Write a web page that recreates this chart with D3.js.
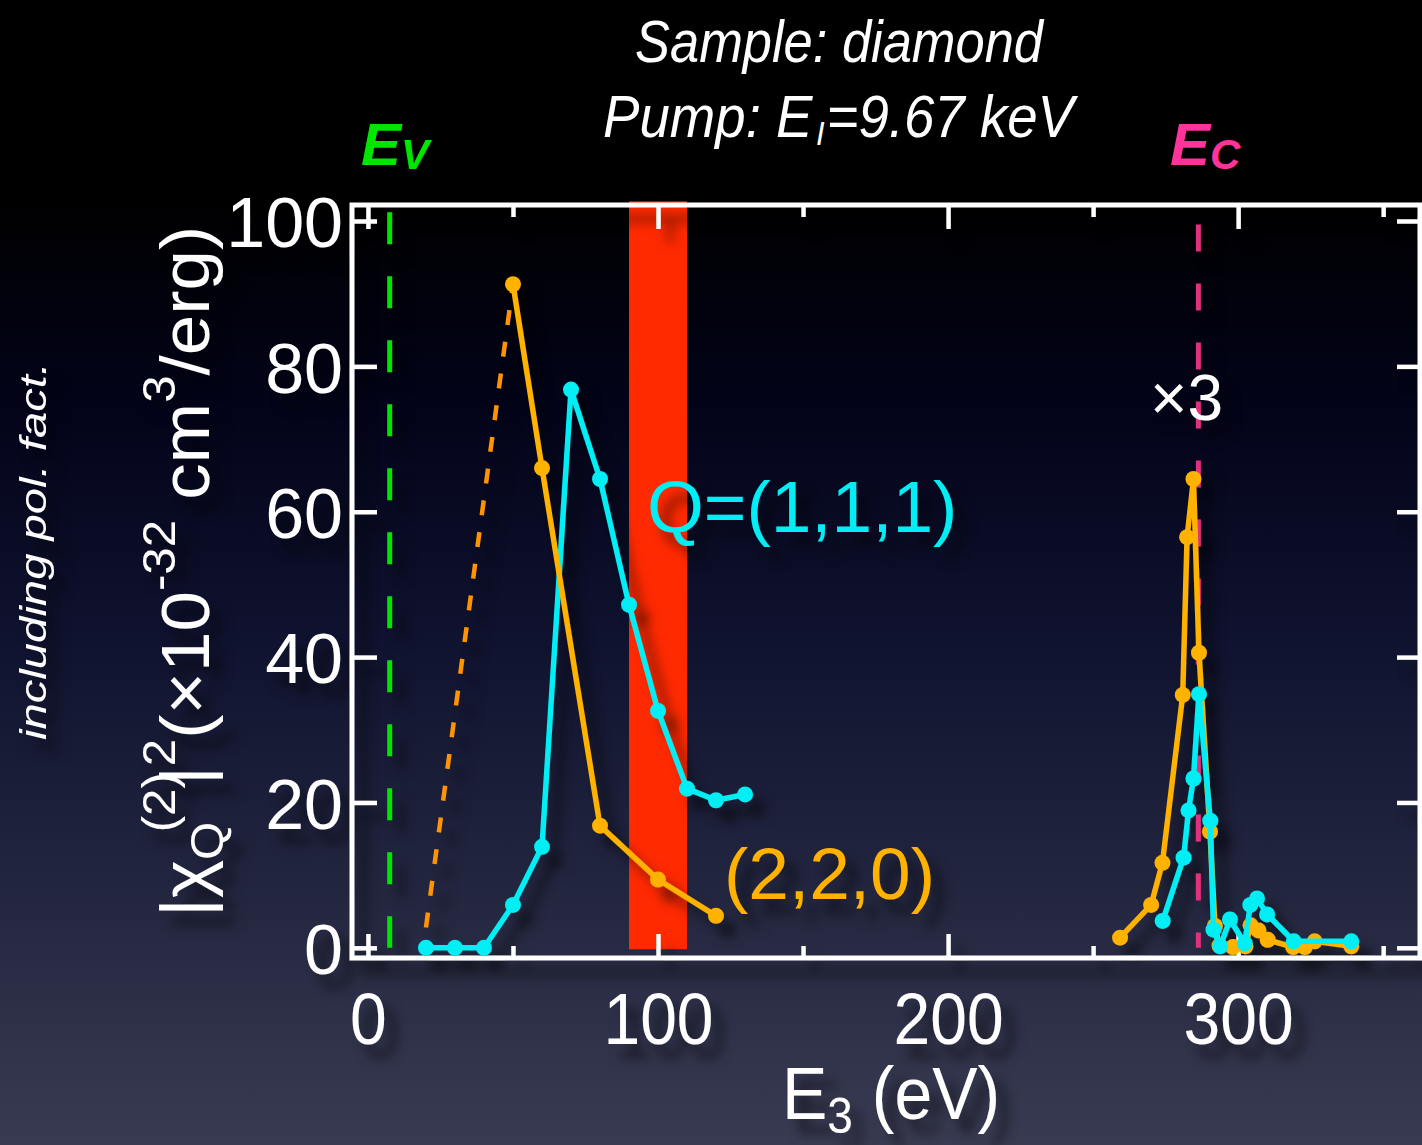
<!DOCTYPE html>
<html>
<head>
<meta charset="utf-8">
<script src="https://cdn.jsdelivr.net/npm/d3@7"></script>
<style>
  html, body { margin: 0; padding: 0; background: #000; overflow: hidden; }
  text { font-family: "Liberation Sans", Arial, Helvetica, sans-serif; }
</style>
</head>
<body>
<svg id="chart" width="1422" height="1145"></svg>
<script>
// ---- data: |chi_Q^(2)|^2 (x1e-32 cm^3/erg) versus E3 (eV) ----
// Q=(1,1,1), valence region
const q111LowE   = [20, 30, 40, 50, 60, 70, 80, 90, 100, 110, 120, 130];
const q111LowChi = [0, 0, 0, 5.9, 13.9, 76.8, 64.5, 47.2, 32.6, 21.9, 20.3, 21.1];
// Q=(2,2,0), valence region
const q220LowE   = [50, 60, 80, 100, 120];
const q220LowChi = [91.3, 66.0, 16.8, 9.4, 4.4];
// dotted guide below the first (2,2,0) point
const q220GuideE   = [20, 50];
const q220GuideChi = [2.8, 91.3];
// carbon K-edge region (shown x3)
const q111EdgeE   = [274, 281.2, 282.9, 284.6, 286.5, 290.4, 291.5, 293.8, 297.2, 302.3, 304.2, 306.5, 310, 319.2, 339];
const q111EdgeChi = [3.7, 12.4, 18.9, 23.3, 34.9, 17.5, 2.5, 0.2, 3.9, 0.6, 5.9, 6.8, 4.6, 0.9, 0.9];
const q220EdgeE   = [259.3, 270, 273.9, 280.9, 282.4, 284.6, 286.5, 290.3, 292, 293.6, 298.2, 302.5, 304.3, 307, 310.2, 319, 323, 326.4, 339];
const q220EdgeChi = [1.4, 5.9, 11.7, 34.8, 56.5, 64.5, 40.6, 16.0, 3.0, 0.3, 0.1, 0.2, 3.1, 2.4, 1.1, 0.1, 0.1, 0.9, 0.2];
// highlighted band and band-edge markers
const bandRange = [90, 110];
const valenceEdge = 7.5;
const conductionEdge = 286.3;
// axis ticks
const xMajorTicks = [0, 100, 200, 300];
const xTickLabels = ["0", "100", "200", "300"];
const xMinorTicks = [50, 150, 250, 350];
const yTicks = [0, 20, 40, 60, 80, 100];
const yTickLabels = ["0", "20", "40", "60", "80", "100"];

const W = 1422, H = 1145;
const CYAN = "#00eef4", ORANGE = "#ffb200", DOT_ORANGE = "#ff9400";

const svg = d3.select("#chart");
const defs = svg.append("defs");

// dark vertical background
const grad = defs.append("linearGradient").attr("id", "bg")
  .attr("x1", 0).attr("y1", 0).attr("x2", 0).attr("y2", 1);
[[0, "#000000"], [0.17, "#000000"], [0.36, "#03041a"], [0.56, "#10132f"],
 [0.78, "#23263f"], [1, "#393b52"]]
  .forEach(([o, c]) => grad.append("stop").attr("offset", o).attr("stop-color", c));
svg.append("rect").attr("width", W).attr("height", H).attr("fill", "url(#bg)");

// soft drop shadow under the drawing
const shadow = defs.append("filter").attr("id", "shadow")
  .attr("filterUnits", "userSpaceOnUse")
  .attr("x", 0).attr("y", 0).attr("width", W).attr("height", H);
shadow.append("feDropShadow").attr("dx", 12).attr("dy", 14).attr("stdDeviation", 6)
  .attr("flood-color", "#000").attr("flood-opacity", 0.55);

const x = d3.scaleLinear().domain([-5.5, 362.7]).range([352, 1420]);
const y = d3.scaleLinear().domain([-1.4, 102.2]).range([958, 205]);

const zip = (a, b) => a.map((v, i) => [v, b[i]]);
const line = d3.line().x(d => x(d[0])).y(d => y(d[1]));

// highlighted energy window
svg.append("rect")
  .attr("x", x(bandRange[0])).attr("width", x(bandRange[1]) - x(bandRange[0]))
  .attr("y", y(102.7)).attr("height", y(-0.2) - y(102.7))
  .attr("fill", "#ff2a00");

const g = svg.append("g").attr("filter", "url(#shadow)");

// band-edge dashed markers
g.append("line")
  .attr("x1", x(valenceEdge)).attr("x2", x(valenceEdge))
  .attr("y1", y(101.2)).attr("y2", y(0))
  .attr("stroke", "#00e600").attr("stroke-width", 5).attr("stroke-dasharray", "32,32");
g.append("line")
  .attr("x1", x(conductionEdge)).attr("x2", x(conductionEdge))
  .attr("y1", y(99.5)).attr("y2", y(0))
  .attr("stroke", "#e0307c").attr("stroke-width", 5).attr("stroke-dasharray", "27,32");

// frame and ticks
const axes = g.append("g").attr("stroke", "#fff").attr("fill", "none");
axes.append("rect")
  .attr("x", x.range()[0]).attr("y", y.range()[1])
  .attr("width", x.range()[1] - x.range()[0]).attr("height", y.range()[0] - y.range()[1])
  .attr("stroke-width", 5);

function styleAxis(sel) {
  sel.select(".domain").remove();
  sel.selectAll(".tick line").attr("stroke", "#fff").attr("stroke-width", 4.5);
}
g.append("g").attr("transform", `translate(0,${y.range()[0]})`)
  .call(d3.axisBottom(x).tickValues(xMajorTicks).tickSize(-24).tickSizeOuter(0)
        .tickFormat((d, i) => xTickLabels[i]))
  .call(styleAxis)
  .call(s => s.selectAll(".tick text")
    .attr("y", null).attr("dy", null)
    .attr("transform", "translate(0,86) scale(1,1.1)")
    .attr("fill", "#fff").attr("font-size", 66)
    .attr("font-family", "Liberation Sans, Arial, sans-serif"));
g.append("g").attr("transform", `translate(0,${y.range()[0]})`)
  .call(d3.axisBottom(x).tickValues(xMinorTicks).tickSize(-12).tickSizeOuter(0).tickFormat(""))
  .call(styleAxis);
g.append("g").attr("transform", `translate(0,${y.range()[1]})`)
  .call(d3.axisTop(x).tickValues(xMajorTicks).tickSize(-24).tickSizeOuter(0).tickFormat(""))
  .call(styleAxis);
g.append("g").attr("transform", `translate(0,${y.range()[1]})`)
  .call(d3.axisTop(x).tickValues(xMinorTicks).tickSize(-12).tickSizeOuter(0).tickFormat(""))
  .call(styleAxis);
g.append("g").attr("transform", `translate(${x.range()[0]},0)`)
  .call(d3.axisLeft(y).tickValues(yTicks).tickSize(-25).tickSizeOuter(0)
        .tickFormat((d, i) => yTickLabels[i]))
  .call(styleAxis)
  .call(s => s.selectAll(".tick text")
    .attr("x", -9).attr("dy", "0.37em")
    .attr("fill", "#fff").attr("font-size", 70)
    .attr("font-family", "Liberation Sans, Arial, sans-serif"));
g.append("g").attr("transform", `translate(${x.range()[1]},0)`)
  .call(d3.axisRight(y).tickValues(yTicks).tickSize(-23).tickSizeOuter(0).tickFormat(""))
  .call(styleAxis);

// series
function drawSeries(data, color, r) {
  g.append("path").datum(data).attr("d", line)
    .attr("fill", "none").attr("stroke", color).attr("stroke-width", 5.5)
    .attr("stroke-linejoin", "round");
  g.append("g").selectAll("circle").data(data).join("circle")
    .attr("cx", d => x(d[0])).attr("cy", d => y(d[1])).attr("r", r)
    .attr("fill", color);
}
g.append("path").datum(zip(q220GuideE, q220GuideChi)).attr("d", line)
  .attr("fill", "none").attr("stroke", DOT_ORANGE).attr("stroke-width", 4.5)
  .attr("stroke-dasharray", "15,17");
drawSeries(zip(q111LowE, q111LowChi), CYAN, 8);
drawSeries(zip(q220LowE, q220LowChi), ORANGE, 8);
drawSeries(zip(q220EdgeE, q220EdgeChi), ORANGE, 8);
drawSeries(zip(q111EdgeE, q111EdgeChi), CYAN, 8);

// in-plot labels
g.append("text").attr("x", 647).attr("y", 532).attr("font-size", 73).attr("fill", CYAN)
  .text("Q=(1,1,1)");
g.append("text").attr("x", 724).attr("y", 899).attr("font-size", 73).attr("fill", ORANGE)
  .text("(2,2,0)");
g.append("text").attr("x", 1150).attr("y", 420).attr("font-size", 64).attr("fill", "#fff")
  .text("×3");

// x-axis title
const xt = g.append("text")
  .attr("transform", "translate(782,1119) scale(1,1.1)")
  .attr("font-size", 68).attr("fill", "#fff");
xt.append("tspan").text("E");
xt.append("tspan").attr("font-size", 46).attr("dy", 13).text("3");
xt.append("tspan").attr("dy", -13).text(" (eV)");

// y-axis title
const yt = g.append("text")
  .attr("transform", "translate(209,917) scale(1,1.07) rotate(-90)")
  .attr("font-size", 68).attr("fill", "#fff");
yt.append("tspan").text("|χ");
yt.append("tspan").attr("font-size", 46).attr("dy", 14).text("Q");
yt.append("tspan").attr("font-size", 46).attr("dx", -10).attr("dy", -48).text("(2)");
yt.append("tspan").attr("dx", -12).attr("dy", 34).text("|");
yt.append("tspan").attr("font-size", 46).attr("dy", -34).text("2");
yt.append("tspan").attr("dy", 34).text("(×10");
yt.append("tspan").attr("font-size", 46).attr("dy", -34).text("-32");
yt.append("tspan").attr("dy", 34).text(" cm");
yt.append("tspan").attr("font-size", 46).attr("dy", -34).text("3");
yt.append("tspan").attr("dy", 34).text("/erg)");

g.append("text")
  .attr("transform", "translate(46,740) rotate(-90)")
  .attr("font-size", 37).attr("font-style", "italic").attr("fill", "#fff")
  .attr("font-family", "Liberation Sans Narrow, Liberation Sans, sans-serif")
  .attr("textLength", 378).attr("lengthAdjust", "spacingAndGlyphs")
  .text("including pol. fact.");

// header
const head = svg.append("g").attr("fill", "#fff")
  .attr("font-style", "italic");
head.append("text").attr("x", 839).attr("y", 62).attr("text-anchor", "middle")
  .attr("font-family", "Lato, 'Open Sans', sans-serif").attr("font-size", 60)
  .attr("textLength", 408).attr("lengthAdjust", "spacingAndGlyphs")
  .text("Sample: diamond");
const pump = head.append("text").attr("x", 603).attr("y", 137)
  .attr("font-family", "Lato, 'Open Sans', sans-serif").attr("font-size", 60)
  .attr("textLength", 471).attr("lengthAdjust", "spacingAndGlyphs");
pump.append("tspan").text("Pump: E");
pump.append("tspan").attr("font-size", 34).attr("dx", 4).attr("dy", 8).text("I");
pump.append("tspan").attr("dx", 2).attr("dy", -8).text("=9.67 keV");

const ev = svg.append("text").attr("x", 361).attr("y", 165)
  .attr("font-family", "Lato, sans-serif").attr("font-weight", 900).attr("font-style", "italic")
  .attr("font-size", 60).attr("fill", "#00e600");
ev.append("tspan").text("E");
ev.append("tspan").attr("font-size", 42).attr("dy", 4).text("V");
const ec = svg.append("text").attr("x", 1170).attr("y", 165)
  .attr("font-family", "Lato, sans-serif").attr("font-weight", 900).attr("font-style", "italic")
  .attr("font-size", 60).attr("fill", "#ff3399");
ec.append("tspan").text("E");
ec.append("tspan").attr("font-size", 42).attr("dy", 4).text("C");
</script>
</body>
</html>
